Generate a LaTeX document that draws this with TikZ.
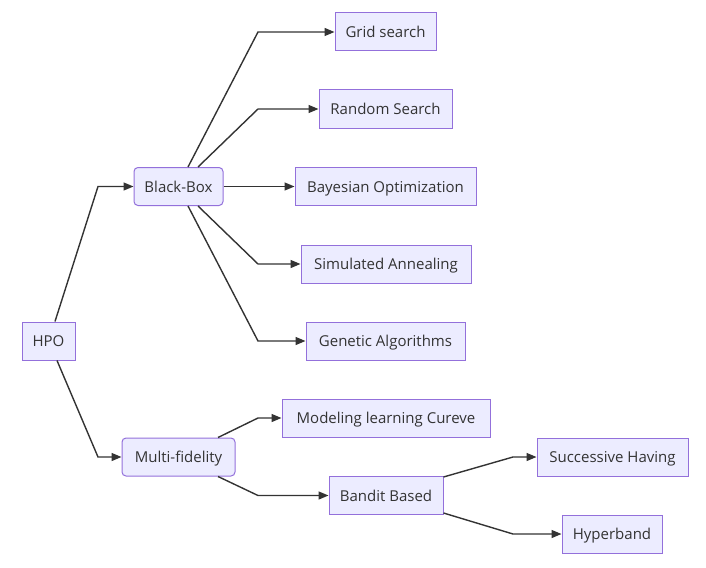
\documentclass[tikz,border=0pt]{standalone}
\usepackage{fontspec}
\setmainfont{Open Sans}
\usetikzlibrary{arrows.meta}
\definecolor{boxfill}{HTML}{ECECFF}
\definecolor{boxline}{HTML}{9370DB}
\definecolor{ink}{HTML}{333333}
\tikzset{
  box/.style={draw=boxline, fill=boxfill, line width=1pt, inner sep=0pt,
    minimum height=38pt, text height=13pt, text depth=2pt, text=ink,
    font=\fontsize{15}{17}\selectfont},
  rbox/.style={box, rounded corners=4pt},
  arr/.style={draw=ink, line width=1.4pt, -{Triangle[length=10pt,width=8pt]}},
}
\begin{document}
\begin{tikzpicture}[x=1pt,y=-1pt]
\useasboundingbox (0,0) rectangle (706,567);
\node[box, minimum width=53pt]  (hpo)  at (48.5,341) {HPO};
\node[rbox, minimum width=89pt] (bb)   at (178.5,186.5) {Black-Box};
\node[rbox, minimum width=113pt] (mf)  at (178.5,457) {Multi-fidelity};
\node[box, minimum width=101pt] (grid) at (385.5,32) {Grid search};
\node[box, minimum width=133pt] (rand) at (385.5,109) {Random Search};
\node[box, minimum width=181pt] (bay)  at (385.5,186.5) {Bayesian Optimization};
\node[box, minimum width=170pt] (sim)  at (386,264) {Simulated Annealing};
\node[box, minimum width=159pt] (gen)  at (385.5,341) {Genetic Algorithms};
\node[box, minimum width=208pt] (mod)  at (386,418) {Modeling learning Cureve};
\node[box, minimum width=114pt] (band) at (386,495.5) {Bandit Based};
\node[box, minimum width=151pt] (succ) at (612.5,457) {Successive Having};
\node[box, minimum width=100pt] (hyp)  at (612,534) {Hyperband};
% bend points
\coordinate (c1) at (98,186.5);
\coordinate (c2) at (98,457);
\coordinate (c3) at (258,32);
\coordinate (c4) at (258,109);
\coordinate (c5) at (258,264);
\coordinate (c6) at (258,341);
\coordinate (c7) at (258,418);
\coordinate (c8) at (258,495.5);
\coordinate (c9) at (513,457);
\coordinate (c10) at (513,534);
\draw[arr] ([xshift=6.5pt]hpo.north) -- (c1) -- (bb.west);
\draw[arr] ([xshift=8.5pt]hpo.south) -- (c2) -- (mf.west);
\draw[arr] ([xshift=9.5pt]bb.north) -- (c3) -- (grid.west);
\draw[arr] ([xshift=19.5pt]bb.north) -- (c4) -- (rand.west);
\draw[arr] (bb.east) -- (bay.west);
\draw[arr] ([xshift=19.5pt]bb.south) -- (c5) -- (sim.west);
\draw[arr] ([xshift=9.5pt]bb.south) -- (c6) -- (gen.west);
\draw[arr] ([xshift=39.5pt]mf.north) -- (c7) -- (mod.west);
\draw[arr] ([xshift=39.5pt]mf.south) -- (c8) -- (band.west);
\draw[arr] ([yshift=-1pt]band.north east) -- (c9) -- (succ.west);
\draw[arr] ([yshift=2pt]band.south east) -- (c10) -- (hyp.west);
\end{tikzpicture}
\end{document}
